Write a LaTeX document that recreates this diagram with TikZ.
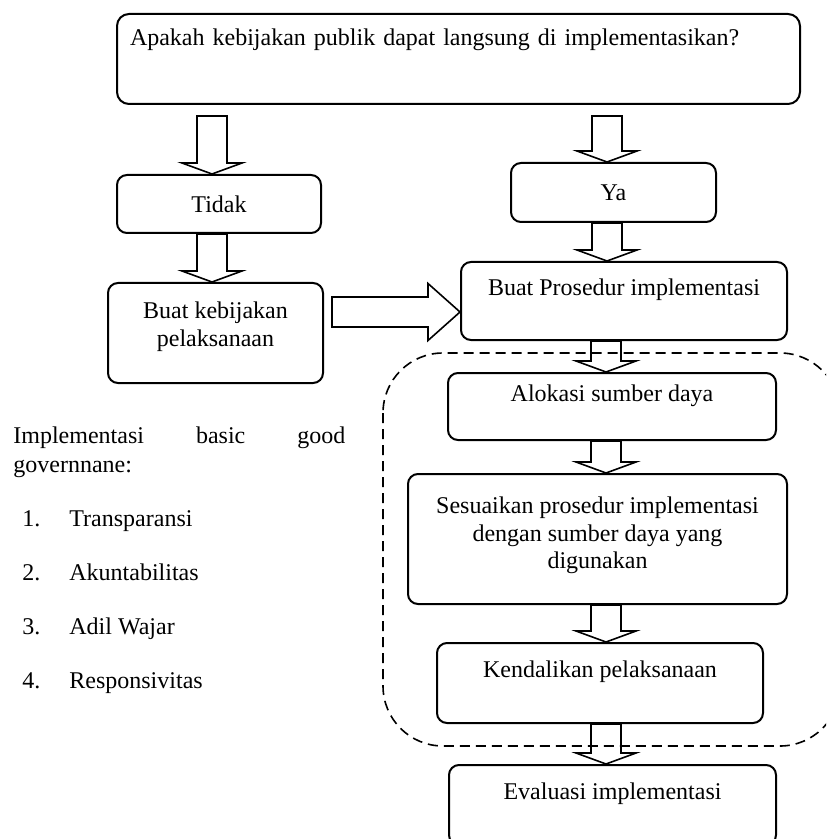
\documentclass[tikz,border=0pt]{standalone}
\usepackage{fontspec}
\setmainfont{Liberation Serif}
\usetikzlibrary{calc}

% Hollow block arrow pointing down: [gap below source]{source}{target}{axis x}
\newcommand\downblock[4][0pt]{%
  \draw[blockarrow] let \p1=(#2.south), \p2=(#3.north), \p3=(#4,0) in
    (\x3-7.5pt,\y1-#1) -- (\x3-7.5pt,\y2+5.5pt) -- (\x3-15pt,\y2+5.5pt) -- (\x3,\y2)
    -- (\x3+15pt,\y2+5.5pt) -- (\x3+7.5pt,\y2+5.5pt) -- (\x3+7.5pt,\y1-#1) -- cycle;}
% Hollow block arrow pointing right: [gap after source]{source}{target}{axis y}
\newcommand\rightblock[4][0pt]{%
  \draw[blockarrow] let \p1=(#2.east), \p2=(#3.west), \p3=(0,#4) in
    (\x1+#1,\y3+7.5pt) -- (\x2-16pt,\y3+7.5pt) -- (\x2-16pt,\y3+14.25pt) -- (\x2,\y3)
    -- (\x2-16pt,\y3-14.25pt) -- (\x2-16pt,\y3-7.5pt) -- (\x1+#1,\y3-7.5pt) -- cycle;}

\tikzset{
  box/.style={draw, line width=1pt, rounded corners=5pt, inner xsep=0pt,
    inner ysep=0pt, align=center},
  blockarrow/.style={line width=0.8pt, line join=miter},
  region/.style={line width=0.8pt, dash pattern=on 5pt off 3pt, rounded corners=30pt},
  plain/.style={inner sep=0pt, anchor=base west}
}

\begin{document}
\begin{tikzpicture}[x=0.5pt, y=-0.5pt, font=\fontsize{12}{13.8}\selectfont]
\useasboundingbox (0,0) rectangle (826,839);
\clip (0,0) rectangle (826,839);

% dashed grouping of the execution steps
\draw[region] (383,353) rectangle (840,746);

% question
\node[box, rounded corners=6pt, minimum width=341.5pt, text width=328.5pt,
  inner xsep=6.5pt, align=left, text height=16pt, text depth=29pt]
  (q) at (458.5,59) {Apakah kebijakan publik dapat langsung di implementasikan?};

% left branch
\node[box, minimum width=102pt, minimum height=29pt] (tidak) at (219,204) {Tidak};
\node[box, minimum width=107.5pt, minimum height=50pt] (kebijakan) at (215.5,333)
  {Buat kebijakan\\pelaksanaan\rule[-8.6pt]{0pt}{8.6pt}};

% right branch
\node[box, minimum width=102.5pt, minimum height=29.5pt] (ya) at (613.5,192.5) {Ya};
\node[box, minimum width=163pt, text height=17pt, text depth=22pt]
  (prosedur) at (624,301) {Buat Prosedur implementasi};
\node[box, minimum width=164pt, text height=14pt, text depth=19.5pt]
  (alokasi) at (612,406.5) {Alokasi sumber daya};
\node[box, minimum width=189.5pt, minimum height=65pt] (sesuai) at (597.5,539)
  {Sesuaikan prosedur implementasi\\dengan sumber daya yang\\digunakan\rule[-6pt]{0pt}{6pt}};
\node[box, minimum width=163pt, text height=17pt, text depth=23pt]
  (kendali) at (600,683) {Kendalikan pelaksanaan};
\node[box, minimum width=163.5pt, text height=17pt, text depth=23pt]
  (evaluasi) at (612.5,805) {Evaluasi implementasi};

% block arrows
\downblock[5.5pt]{q}{tidak}{212}
\downblock{tidak}{kebijakan}{212}
\downblock[5.5pt]{q}{ya}{607}
\downblock{ya}{prosedur}{607}
\rightblock[4pt]{kebijakan}{prosedur}{312}
\downblock{prosedur}{alokasi}{606}
\downblock{alokasi}{sesuai}{606}
\downblock{sesuai}{kendali}{606}
\downblock{kendali}{evaluasi}{606}

% good governance principles
\node[plain] (gg1) at (13,443) {\hbox to 166pt{Implementasi\hfill basic\hfill good}};
\node[plain] (gg2) at (13,472) {governnane:};
\node[plain] (n1) at (22,526) {1.};
\node[plain] (t1) at (69,526) {Transparansi};
\node[plain] (n2) at (22,580) {2.};
\node[plain] (t2) at (69,580) {Akuntabilitas};
\node[plain] (n3) at (22,634) {3.};
\node[plain] (t3) at (69,634) {Adil Wajar};
\node[plain] (n4) at (22,688) {4.};
\node[plain] (t4) at (69,688) {Responsivitas};
\end{tikzpicture}
\end{document}
